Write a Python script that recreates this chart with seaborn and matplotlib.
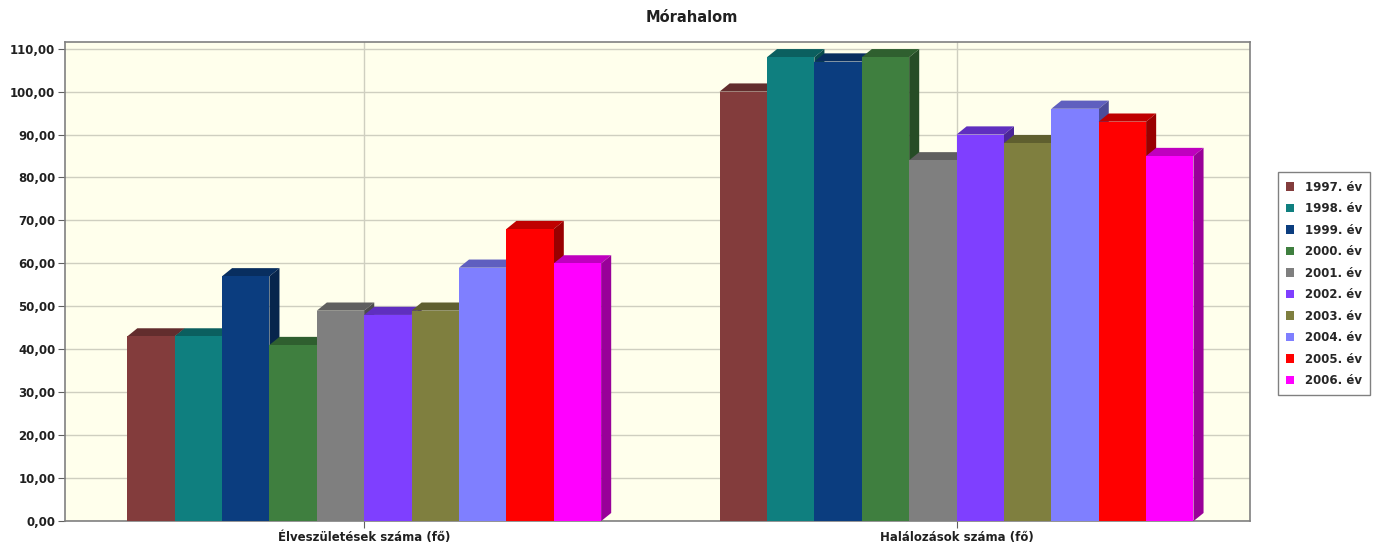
import pandas as pd
import matplotlib
matplotlib.use("Agg")
import matplotlib.pyplot as plt
import matplotlib.colors as mcolors
from matplotlib.patches import Polygon
from matplotlib.ticker import FuncFormatter
import seaborn as sns

# Data
categories = ["Élveszületések száma (fő)", "Halálozások száma (fő)"]
years = ["1997. év", "1998. év", "1999. év", "2000. év", "2001. év",
         "2002. év", "2003. év", "2004. év", "2005. év", "2006. év"]
births = [43, 43, 57, 41, 49, 48, 49, 59, 68, 60]
deaths = [100, 108, 107, 108, 84, 90, 88, 96, 93, 85]
colors = ["#833C3C", "#0F7F7F", "#0B3D7F", "#3F7F3F", "#7F7F7F",
          "#7F3FFF", "#7F7F3F", "#7F7FFF", "#FF0000", "#FF00FF"]

df = pd.DataFrame({
    "kategoria": [categories[0]] * len(years) + [categories[1]] * len(years),
    "ev": years * 2,
    "ertek": births + deaths,
})

sns.set_style("white")
plt.rcParams["font.family"] = ["DejaVu Sans"]

fig = plt.figure(figsize=(13.84, 5.55), dpi=100)
ax = fig.add_axes([0.047, 0.061, 0.856, 0.863])
ax.set_facecolor("#FFFFEC")

sns.barplot(data=df, x="kategoria", y="ertek", hue="ev", palette=colors,
            width=0.8, saturation=1, linewidth=0, ax=ax)

ax.set_xlim(-0.505, 1.495)
ax.set_ylim(0, 111.5)

# fake 3D depth on every bar, built from the bar geometry
dx, dy = 0.017, 1.9
for h, cont in enumerate(ax.containers):
    for p in cont:
        x0 = p.get_x()
        x1 = x0 + p.get_width()
        y1 = p.get_height()
        c = mcolors.to_rgb(p.get_facecolor())
        top_c = tuple(v * 0.75 for v in c)
        side_c = tuple(v * 0.6 for v in c)
        z = 3 + h * 0.1
        p.set_zorder(z + 0.05)
        ax.add_patch(Polygon([(x0, y1), (x0 + dx, y1 + dy), (x1 + dx, y1 + dy), (x1, y1)],
                             closed=True, facecolor=top_c, edgecolor="none", zorder=z))
        ax.add_patch(Polygon([(x1, 0), (x1 + dx, dy), (x1 + dx, y1 + dy), (x1, y1)],
                             closed=True, facecolor=side_c, edgecolor="none", zorder=z))

ax.set_axisbelow(True)
ax.yaxis.grid(True, color="#CFCFC0", linewidth=1)
ax.xaxis.grid(True, color="#CFCFC0", linewidth=1)
ax.set_yticks(range(0, 111, 10))
ax.yaxis.set_major_formatter(FuncFormatter(lambda v, pos: f"{v:.2f}".replace(".", ",")))
ax.tick_params(axis="both", left=True, bottom=True, length=5, color="#606060",
               labelsize=8.5, pad=2)
for lab in ax.get_xticklabels() + ax.get_yticklabels():
    lab.set_fontweight("bold")
    lab.set_color("#202020")

for s in ax.spines.values():
    s.set_color("#808080")
    s.set_linewidth(1.2)

ax.set_xlabel("")
ax.set_ylabel("")

fig.text(0.5, 1 - 17 / 555, "Mórahalom", ha="center", va="center",
         fontsize=10.5, fontweight="bold", color="#202020")

handles, labels = ax.get_legend_handles_labels()
ax.legend(handles, labels, loc="upper left", bbox_to_anchor=(0.919, 0.70),
          bbox_transform=fig.transFigure, frameon=True, fancybox=False,
          edgecolor="#808080", facecolor="white", framealpha=1,
          prop=dict(weight="bold", size=8.5), handlelength=0.7, handleheight=0.7,
          labelspacing=0.72, borderpad=0.7, handletextpad=0.9)

fig.savefig("out.png", dpi=100)
